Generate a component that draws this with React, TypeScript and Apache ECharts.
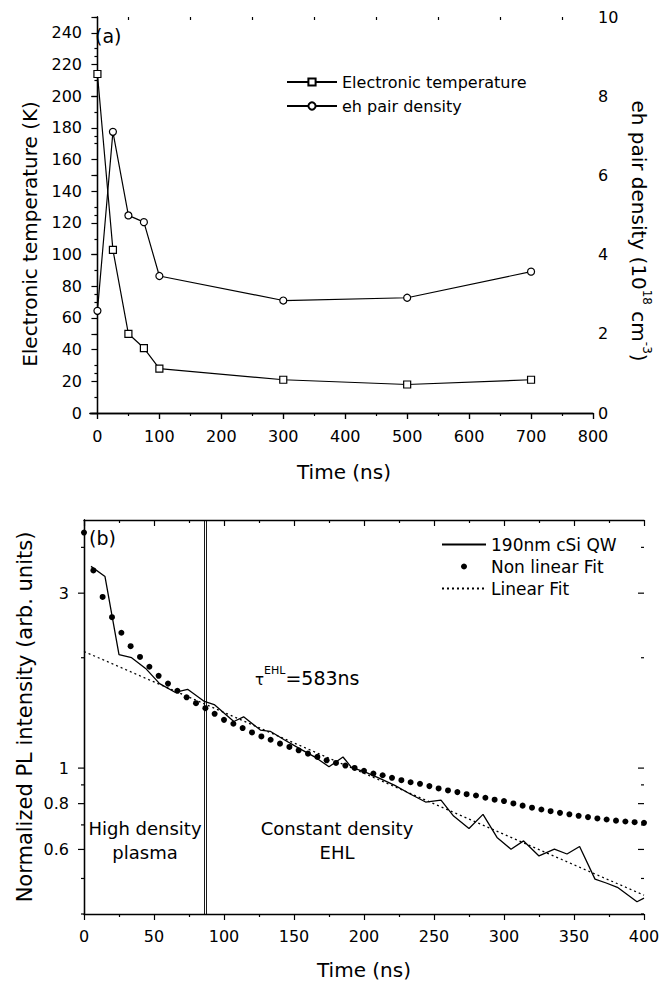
import React, { useEffect, useRef } from 'react';
import * as echarts from 'echarts';

const FONT = 'DejaVu Sans';
const INK = '#000';

// ---------- Panel (a) ----------
const timeA = [0, 25, 50, 75, 100, 300, 500, 700];
const electronicTemp = [214, 103, 50, 41, 28, 21, 18, 21];
const ehDensity = [2.58, 7.1, 4.99, 4.82, 3.46, 2.84, 2.91, 3.57];
const timeAMajorTicks = [0, 100, 200, 300, 400, 500, 600, 700, 800];
const timeAMinorTicks = [50, 150, 250, 350, 450, 550, 650, 750];
const tempMajorTicks = [0, 20, 40, 60, 80, 100, 120, 140, 160, 180, 200, 220, 240];
const tempMinorTicks = [10, 30, 50, 70, 90, 110, 130, 150, 170, 190, 210, 230, 250];

// ---------- Panel (b) ----------
const timeQW = [5, 15, 25, 34, 44, 54, 65, 74, 86, 93, 107, 114, 126, 133, 143, 154, 166, 175, 185, 191, 201, 212, 222, 233, 244, 255, 264, 275, 285, 295, 305, 314, 325, 336, 345, 354, 365, 373, 381, 395, 400];
const plQW = [3.55, 3.33, 2.04, 2.0, 1.87, 1.7, 1.61, 1.64, 1.52, 1.49, 1.34, 1.38, 1.27, 1.26, 1.195, 1.13, 1.066, 1.008, 1.072, 1.005, 0.975, 0.935, 0.897, 0.85, 0.808, 0.818, 0.74, 0.684, 0.748, 0.647, 0.601, 0.633, 0.576, 0.601, 0.583, 0.611, 0.498, 0.486, 0.473, 0.432, 0.442];
const timeFit = [0, 6.7, 13.3, 20, 26.7, 33.3, 40, 46.7, 53.3, 60, 66.7, 73.3, 80, 86.7, 93.3, 100, 106.7, 113.3, 120, 126.7, 133.3, 140, 146.7, 153.3, 160, 166.7, 173.3, 180, 186.7, 193.3, 200, 206.7, 213.3, 220, 226.7, 233.3, 240, 246.7, 253.3, 260, 266.7, 273.3, 280, 286.7, 293.3, 300, 306.7, 313.3, 320, 326.7, 333.3, 340, 346.7, 353.3, 360, 366.7, 373.3, 380, 386.7, 393.3, 400];
const plNonLinearFit = [4.39, 3.46, 2.93, 2.58, 2.34, 2.15, 2.01, 1.89, 1.785, 1.7, 1.625, 1.56, 1.503, 1.457, 1.406, 1.354, 1.321, 1.286, 1.251, 1.22, 1.195, 1.166, 1.142, 1.118, 1.095, 1.073, 1.05, 1.033, 1.016, 1.001, 0.983, 0.966, 0.956, 0.941, 0.927, 0.915, 0.906, 0.893, 0.88, 0.869, 0.86, 0.849, 0.842, 0.83, 0.82, 0.813, 0.801, 0.79, 0.78, 0.771, 0.763, 0.755, 0.748, 0.741, 0.735, 0.729, 0.724, 0.719, 0.715, 0.712, 0.709];
const timeLinear = [0, 400];
const plLinearFit = [2.08, 0.45];
const plTicks = [0.4, 0.5, 0.6, 0.7, 0.8, 0.9, 1, 2, 3, 4];
const plTickLabels = ['', '', '0.6', '', '0.8', '', '1', '', '3', ''];
const boundaryTimes = [85.8, 87.2];

const axisLineStyle = { lineStyle: { color: INK, width: 1.3 } };
const tickLine = { color: INK, width: 1.2 };
const labelStyle = { fontSize: 16, fontFamily: FONT, color: INK };
const hiddenSymbol = { color: 'transparent', borderColor: 'transparent', opacity: 0 };

function txt(x: number, y: number, text: string, opts: any = {}) {
  const { rotation = 0, fontSize = 20, align = 'center', verticalAlign = 'middle', rich, lineHeight } = opts;
  return {
    type: 'text',
    x,
    y,
    rotation,
    silent: true,
    style: {
      text,
      fontSize,
      fontFamily: FONT,
      fill: INK,
      align,
      verticalAlign,
      textAlign: align,
      textVerticalAlign: verticalAlign,
      lineHeight,
      rich,
    },
  };
}

export default function App() {
  const ref = useRef<HTMLDivElement>(null);

  useEffect(() => {
    if (!ref.current) return;
    const chart = echarts.init(ref.current, undefined, { renderer: 'svg' });

    const option: any = {
      animation: false,
      backgroundColor: '#fff',
      grid: [
        { left: 90, top: 17, width: 503, height: 396 },
        { left: 84, top: 520, width: 560, height: 394 },
      ],
      xAxis: [
        {
          gridIndex: 0, type: 'value', position: 'bottom', min: -12, max: 800,
          axisLine: axisLineStyle,
          axisTick: { show: true, inside: false, length: 6, customValues: timeAMajorTicks, lineStyle: tickLine },
          axisLabel: { ...labelStyle, customValues: timeAMajorTicks, margin: 15 },
          splitLine: { show: false },
        },
        {
          gridIndex: 0, type: 'value', position: 'bottom', min: -12, max: 800,
          axisLine: { show: false },
          axisTick: { show: true, inside: false, length: 3, customValues: timeAMinorTicks, lineStyle: tickLine },
          axisLabel: { show: false },
          splitLine: { show: false },
        },
        {
          gridIndex: 0, type: 'value', position: 'top', min: -12, max: 800,
          axisLine: axisLineStyle,
          axisTick: { show: true, inside: true, length: 6, customValues: timeAMajorTicks, lineStyle: tickLine },
          axisLabel: { show: false },
          splitLine: { show: false },
        },
        {
          gridIndex: 0, type: 'value', position: 'top', min: -12, max: 800,
          axisLine: { show: false },
          axisTick: { show: true, inside: true, length: 3, customValues: timeAMinorTicks, lineStyle: tickLine },
          axisLabel: { show: false },
          splitLine: { show: false },
        },
        {
          gridIndex: 1, type: 'value', position: 'bottom', min: 0, max: 400, interval: 50,
          axisLine: axisLineStyle,
          axisTick: { show: true, inside: false, length: 6, lineStyle: tickLine },
          minorTick: { show: true, splitNumber: 2, length: 3, lineStyle: tickLine },
          axisLabel: { ...labelStyle, margin: 14 },
          splitLine: { show: false },
        },
        {
          gridIndex: 1, type: 'value', position: 'top', min: 0, max: 400, interval: 50,
          axisLine: axisLineStyle,
          axisTick: { show: true, inside: true, length: 6, lineStyle: tickLine },
          minorTick: { show: true, splitNumber: 2, length: 3, lineStyle: tickLine },
          axisLabel: { show: false },
          splitLine: { show: false },
        },
      ],
      yAxis: [
        {
          gridIndex: 0, type: 'value', position: 'left', min: 0, max: 250,
          axisLine: axisLineStyle,
          axisTick: { show: true, inside: false, length: 6, customValues: tempMajorTicks, lineStyle: tickLine },
          axisLabel: { ...labelStyle, customValues: tempMajorTicks, margin: 8 },
          splitLine: { show: false },
        },
        {
          gridIndex: 0, type: 'value', position: 'left', min: 0, max: 250,
          axisLine: { show: false },
          axisTick: { show: true, inside: false, length: 3, customValues: tempMinorTicks, lineStyle: tickLine },
          axisLabel: { show: false },
          splitLine: { show: false },
        },
        {
          gridIndex: 0, type: 'value', position: 'right', min: 0, max: 10, interval: 2,
          axisLine: axisLineStyle,
          axisTick: { show: true, inside: true, length: 6, lineStyle: tickLine },
          minorTick: { show: true, splitNumber: 2, length: 3, lineStyle: tickLine },
          axisLabel: { ...labelStyle, margin: 5 },
          splitLine: { show: false },
        },
        {
          gridIndex: 1, type: 'log', position: 'left', min: 0.4, max: 4.75,
          axisLine: axisLineStyle,
          axisTick: { show: false },
          axisLabel: { show: false },
          minorTick: { show: false },
          splitLine: { show: false },
        },
        {
          gridIndex: 1, type: 'log', position: 'right', min: 0.4, max: 4.75,
          axisLine: axisLineStyle,
          axisTick: { show: false },
          axisLabel: { show: false },
          minorTick: { show: false },
          splitLine: { show: false },
        },
      ],
      legend: [
        {
          data: ['Electronic temperature', 'eh pair density'],
          orient: 'vertical', left: 286, top: 74, padding: 0,
          itemWidth: 50, itemHeight: 9, itemGap: 8,
          selectedMode: false,
          textStyle: { fontSize: 16, fontFamily: FONT, color: INK },
        },
        {
          data: [
            { name: '190nm cSi QW', itemStyle: hiddenSymbol },
            { name: 'Non linear Fit' },
            { name: 'Linear Fit', itemStyle: hiddenSymbol },
          ],
          orient: 'vertical', left: 441, top: 536, padding: 0,
          itemWidth: 44, itemHeight: 6, itemGap: 5,
          selectedMode: false,
          textStyle: { fontSize: 17, fontFamily: FONT, color: INK },
        },
      ],
      series: [
        {
          name: 'Electronic temperature', type: 'line', xAxisIndex: 0, yAxisIndex: 0,
          data: timeA.map((t, i) => [t, electronicTemp[i]]),
          symbol: 'rect', symbolSize: 7,
          lineStyle: { color: INK, width: 1.2 },
          itemStyle: { color: '#fff', borderColor: INK, borderWidth: 1.2 },
          z: 3,
        },
        {
          name: 'eh pair density', type: 'line', xAxisIndex: 0, yAxisIndex: 2,
          data: timeA.map((t, i) => [t, ehDensity[i]]),
          symbol: 'circle', symbolSize: 7,
          lineStyle: { color: INK, width: 1.2 },
          itemStyle: { color: '#fff', borderColor: INK, borderWidth: 1.2 },
          z: 3,
        },
        {
          name: '190nm cSi QW', type: 'line', xAxisIndex: 4, yAxisIndex: 3,
          data: timeQW.map((t, i) => [t, plQW[i]]),
          symbol: 'none',
          lineStyle: { color: INK, width: 1.3 },
          itemStyle: { color: INK },
          markLine: {
            silent: true,
            symbol: ['none', 'none'],
            label: { show: false },
            lineStyle: { color: INK, width: 0.9, type: 'solid' },
            data: boundaryTimes.map((t) => ({ xAxis: t })),
          },
          z: 3,
        },
        {
          name: 'Non linear Fit', type: 'scatter', xAxisIndex: 4, yAxisIndex: 3,
          data: timeFit.map((t, i) => [t, plNonLinearFit[i]]),
          symbol: 'circle', symbolSize: 6,
          itemStyle: { color: INK, opacity: 1 },
          z: 4,
        },
        {
          name: 'Linear Fit', type: 'line', xAxisIndex: 4, yAxisIndex: 3,
          data: timeLinear.map((t, i) => [t, plLinearFit[i]]),
          symbol: 'none',
          lineStyle: { color: INK, width: 1.3, type: [2, 3] },
          itemStyle: { color: INK },
          z: 2,
        },
        {
          name: 'plTicks', type: 'custom', xAxisIndex: 4, yAxisIndex: 3,
          clip: false, silent: true,
          data: plTicks.map((v) => [0, v]),
          renderItem: (params: any, api: any) => {
            const val = api.value(1);
            const pt = api.coord([0, val]);
            const cs = params.coordSys;
            const y = pt[1];
            const label = plTickLabels[params.dataIndex];
            const major = label !== '';
            const len = major ? 6 : 3;
            const children: any[] = [
              { type: 'line', shape: { x1: cs.x - len, y1: y, x2: cs.x, y2: y }, style: { stroke: INK, lineWidth: 1.2 } },
              { type: 'line', shape: { x1: cs.x + cs.width - len, y1: y, x2: cs.x + cs.width, y2: y }, style: { stroke: INK, lineWidth: 1.2 } },
            ];
            if (major) {
              children.push({
                type: 'text', x: cs.x - 15, y,
                style: { text: label, fontSize: 16, fontFamily: FONT, fill: INK, align: 'right', verticalAlign: 'middle', textAlign: 'right', textVerticalAlign: 'middle' },
              });
            }
            return { type: 'group', children };
          },
        },
      ],
      graphic: [
        txt(95, 36, '(a)', { fontSize: 19, align: 'left' }),
        txt(89, 538, '(b)', { fontSize: 19, align: 'left' }),
        txt(30, 234, 'Electronic temperature (K)', { rotation: Math.PI / 2 }),
        txt(641, 231, '{a|eh pair density (10}{s|18}{a| cm}{s|-3}{a|)}', {
          rotation: -Math.PI / 2,
          rich: {
            a: { fontSize: 20, fontFamily: FONT, fill: INK, lineHeight: 24, verticalAlign: 'bottom' },
            s: { fontSize: 12, fontFamily: FONT, fill: INK, lineHeight: 12, verticalAlign: 'top' },
          },
        }),
        txt(344, 472, 'Time (ns)'),
        txt(364, 970, 'Time (ns)'),
        txt(25, 717, 'Normalized PL intensity (arb. units)', { rotation: Math.PI / 2, fontSize: 21 }),
        txt(255, 676, '{t|τ}{s|EHL}{n|=583ns}', {
          align: 'left',
          rich: {
            t: { fontSize: 15, fontFamily: FONT, fill: INK, lineHeight: 15, verticalAlign: 'bottom' },
            s: { fontSize: 11, fontFamily: FONT, fill: INK, lineHeight: 11, verticalAlign: 'top' },
            n: { fontSize: 19, fontFamily: FONT, fill: INK, lineHeight: 22, verticalAlign: 'bottom' },
          },
        }),
        txt(145, 840, 'High density\nplasma', { fontSize: 18, lineHeight: 24 }),
        txt(337, 840, 'Constant density\nEHL', { fontSize: 18, lineHeight: 24 }),
      ],
    };

    chart.setOption(option);
    return () => chart.dispose();
  }, []);

  return (
    <div
      ref={ref}
      style={{ position: 'absolute', left: 0, top: 0, width: 672, height: 984, background: '#fff' }}
    />
  );
}
